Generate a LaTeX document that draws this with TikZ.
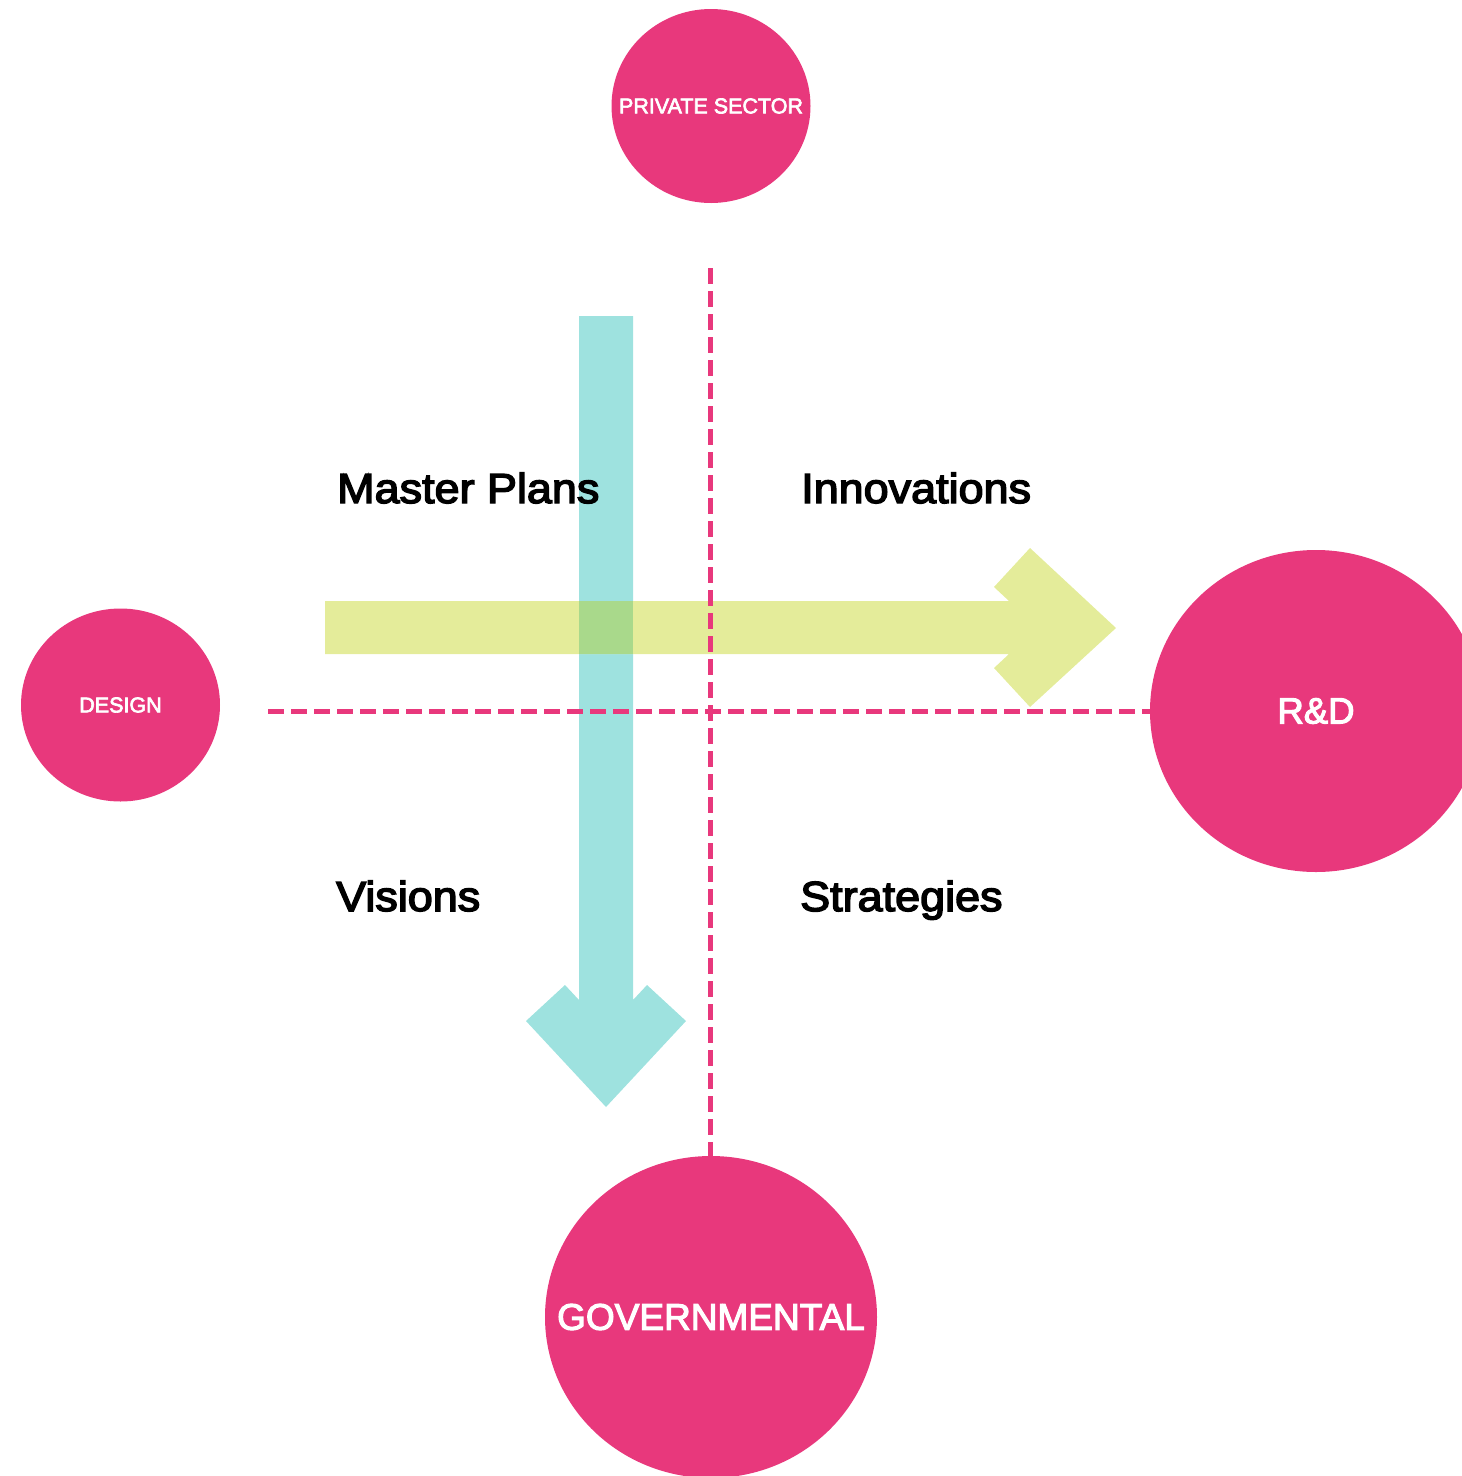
\documentclass[tikz,border=0pt]{standalone}
\usepackage{fontspec}
\setmainfont{Liberation Sans}
\newfontfamily\labfont{Liberation Sans}[FakeStretch=1.07,FakeBold=3.5]
\newfontfamily\circfont{Liberation Sans}[FakeBold=3]
\usetikzlibrary{shapes.geometric}
\definecolor{pinkc}{HTML}{E8387C}
\definecolor{tealc}{HTML}{9EE2DF}
\definecolor{yelc}{HTML}{E4EC9A}
\definecolor{overc}{HTML}{A9D98B}
\begin{document}
\begin{tikzpicture}[x=1pt,y=-1pt,
  blob/.style={ellipse,fill=pinkc,inner sep=0pt,text=white},
  quad/.style={anchor=base west,inner sep=0pt,font=\labfont\fontsize{42}{50}\selectfont},
  guide/.style={draw=pinkc,line width=5pt,dash pattern=on 16pt off 7pt}]
\useasboundingbox (0,0) rectangle (1462,1476);
% arrows
\fill[tealc] (579,316) -- (633,316) -- (633,1000) -- (647,985) -- (686,1021) -- (606,1107) -- (526,1021) -- (565,985) -- (579,1000) -- cycle;
\fill[yelc] (325,601) -- (1009,601) -- (994,587) -- (1030,548) -- (1116,628) -- (1030,707) -- (994,668) -- (1009,654) -- (325,654) -- cycle;
\fill[overc] (579,601) rectangle (633,654);
% circles
\node[blob,minimum width=199pt,minimum height=194pt,font=\circfont\fontsize{21.5}{25}\selectfont] (ps) at (711,106) {\makebox[0pt]{PRIVATE SECTOR}};
\node[blob,minimum width=199pt,minimum height=193pt,font=\circfont\fontsize{21.5}{25}\selectfont] (des) at (120.5,705) {\makebox[0pt]{DESIGN}};
\node[blob,minimum width=332pt,minimum height=322pt,font=\circfont\fontsize{36.5}{42}\selectfont] (rd) at (1316,711) {\makebox[0pt]{R\&D}};
\node[blob,minimum width=332pt,minimum height=322pt,font=\circfont\fontsize{37}{44}\selectfont] (gov) at (711,1317) {\makebox[0pt]{GOVERNMENTAL}};
% guides
\coordinate (vtop) at (710,268);
\coordinate (hleft) at (268,711);
\draw[guide] (vtop) -- (vtop |- gov.north);
\draw[guide] (hleft) -- (hleft -| rd.west);
% labels
\node[quad] (mp) at (337,503) {Master Plans};
\node[quad] (inn) at (801,503) {Innovations};
\node[quad] (vis) at (336,911) {Visions};
\node[quad] (str) at (800,911) {Strategies};
\end{tikzpicture}
\end{document}
